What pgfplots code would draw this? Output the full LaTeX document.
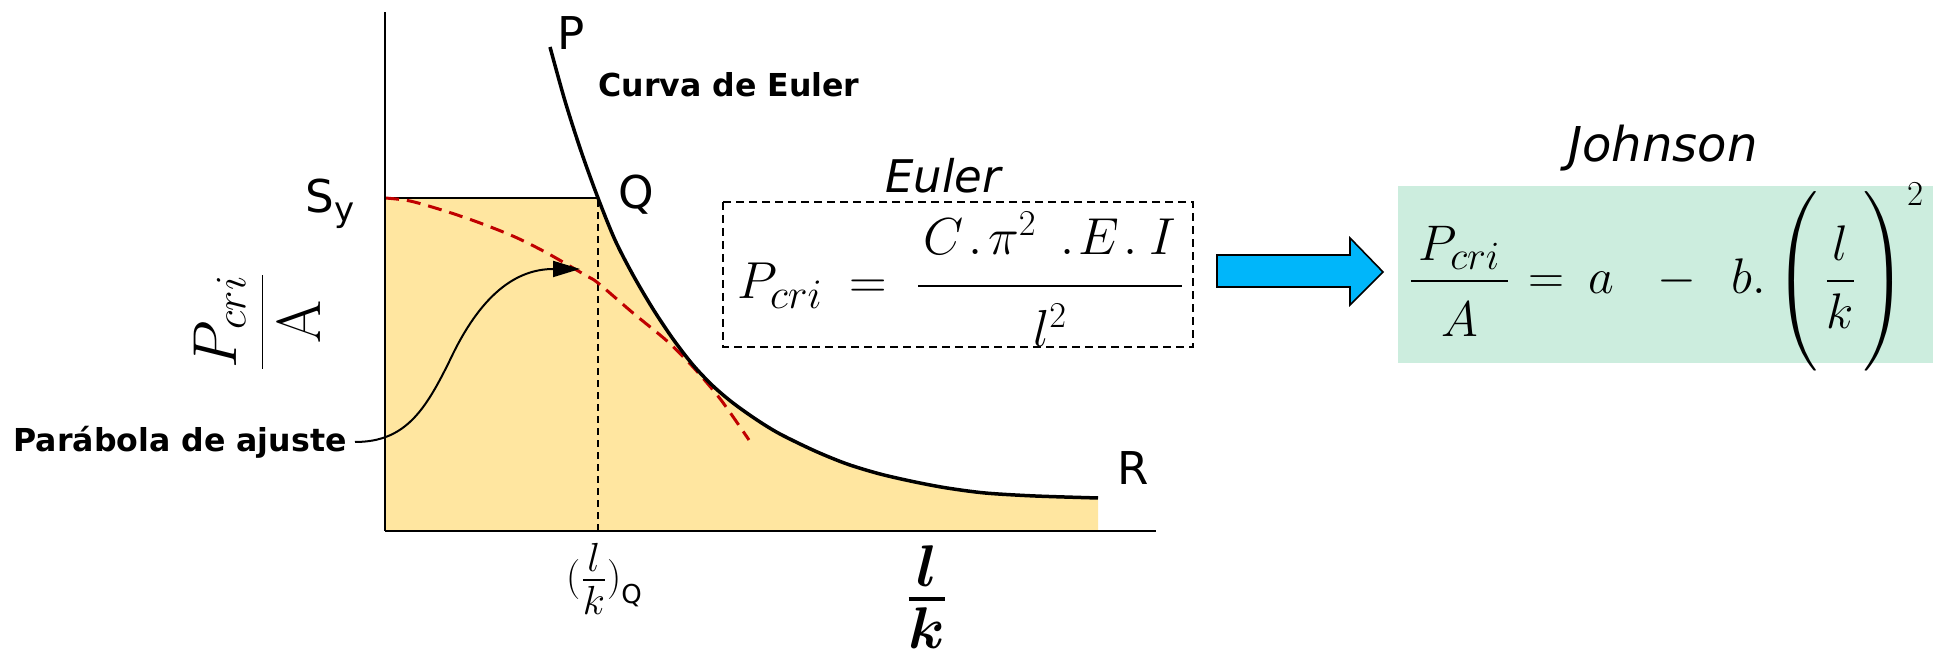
\documentclass[border=0pt]{standalone}
\usepackage{fix-cm}
\usepackage{amsmath}
\usepackage[no-math]{fontspec}
\setmainfont{DejaVu Sans}
\usepackage{pgfplots}
\pgfplotsset{compat=1.18}
\usepackage{pgfplotstable}
\usetikzlibrary{arrows.meta}

\DeclareMathAlphabet{\mathbfit}{OML}{cmm}{b}{it}

\definecolor{areafill}{RGB}{255,230,160}
\definecolor{fitred}{RGB}{192,0,0}
\definecolor{arrowblue}{RGB}{0,182,250}
\definecolor{johnsongreen}{RGB}{204,237,222}

% Euler curve  P/A = f(l/k)
\pgfplotstableread{
x y
165 484
180 430
196 380
213 333
230 291
248 256
268 222
288 192
308 166
328 145
348 128
372 111
395 97
430 80
462 67
495 57
530 49
562 43
600 38
650 35
713 33
}\eulercurve

% Johnson fitting parabola
\pgfplotstableread{
x y
0 333
25 330
60 320
95 308
130 294
162 278
200 256
213 248
248 218
282 190
308 164
336 131
364 91
}\johnsonfit

\begin{document}
\begin{tikzpicture}
\path[use as bounding box] (0,0) rectangle (970pt,328pt);

\begin{axis}[
  at={(192.5pt,62.5pt)}, anchor=south west,
  scale only axis, width=385.5pt, height=259.5pt,
  xmin=0, xmax=771, ymin=0, ymax=519,
  axis x line=bottom, axis y line=left,
  axis line style={-, line width=1.3pt},
  xtick=\empty, ytick=\empty,
  clip=false, axis on top]

  % admissible region
  \addplot[fill=areafill, draw=none] coordinates {(0,0) (0,333) (213,333) (213,0)} -- cycle;
  \addplot[fill=areafill, draw=none, smooth, restrict x to domain=213:714] table {\eulercurve} \closedcycle;

  % yield line and limit slenderness
  \draw[line width=1pt] (0,333) -- (213,333);
  \draw[line width=1pt, dash pattern=on 3.5pt off 2.5pt] (213,0) -- (213,333);

  % parabola
  \addplot[fitred, line width=1.5pt, dash pattern=on 7pt off 4pt, smooth] table {\johnsonfit};

  % Euler curve
  \addplot[black, line width=1.75pt, smooth] table {\eulercurve};

  % pointer from the label to the parabola
  \draw[line width=1pt, -{Triangle[length=13.5pt, width=8pt]}]
    (-30,89) .. controls (20,89) and (40,120) .. (65,171)
    .. controls (95,235) and (130,262) .. (195,262);
\end{axis}

% annotations, placed in pixel units measured from the top-left corner
\begin{scope}[x=0.5pt, y=-0.5pt, shift={(0pt,328pt)}]
\node[anchor=base west, inner sep=0, font=\fontsize{22.6}{27}\selectfont] at (557,50) {P};
\node[anchor=base west, inner sep=0, font=\fontsize{22.6}{27}\selectfont] at (618,209) {Q};
\node[anchor=base west, inner sep=0, font=\fontsize{22.6}{27}\selectfont] at (1117,485) {R};
\node[anchor=base west, inner sep=0, font=\fontsize{22.6}{27}\selectfont] at (305,213)
  {S\raisebox{-4.5pt}{\fontsize{17}{20}\selectfont y}};
\node[anchor=base west, inner sep=0, font=\fontsize{15.8}{19}\selectfont\bfseries] at (598,97) {Curva de Euler};
\node[anchor=base east, inner sep=0, font=\fontsize{15.8}{19}\selectfont\bfseries] at (347,452) {Parábola de ajuste};

\node[anchor=base, inner sep=0, rotate=90, font=\fontsize{31}{36}\selectfont] at (278,322)
  {$\displaystyle\frac{P_{cri}}{\mathrm{A}}$};
\node[anchor=base, inner sep=0, font=\fontsize{29}{34}\selectfont] at (604,594.5)
  {\raisebox{2.25pt}{\fontsize{20}{24}\selectfont$($}$\frac{l}{k}$\raisebox{2.25pt}{\fontsize{20}{24}\selectfont$)$}\raisebox{-4.75pt}{\fontsize{13}{15}\selectfont Q}};
\node[anchor=base, inner sep=0, font=\fontsize{42}{48}\selectfont] at (927,620)
  {$\genfrac{}{}{2pt}{1}{\mathbfit{l}}{\mathbfit{k}}$};

% Euler formula
\node[anchor=base, inner sep=0, font=\fontsize{22.5}{27}\selectfont\itshape] at (943,193) {Euler};
\draw[line width=0.8pt, dash pattern=on 4pt off 2.5pt] (723,202) rectangle (1193,347);
\node[anchor=base west, inner sep=0, font=\fontsize{26}{31}\selectfont] at (737,299)
  {$P_{\hbox{\fontsize{21}{25}\selectfont$cri$}}\hspace{6pt}=$};
\node[anchor=base, inner sep=0, font=\fontsize{26}{31}\selectfont] at (1050,299)
  {$\displaystyle\frac{\raisebox{4.5pt}{\hbox to 132pt{\hfil$C$\hspace{-1pt}\hfil$.$\hfil$\pi^{2}$\hspace{9pt}\hfil$.$\hfil\hspace{-1pt}$E$\hspace{-1pt}\hfil$.$\hspace{3pt}\hfil$I$\hfil}}}{\raisebox{-6pt}{$l^{2}$}}$};

% arrow towards Johnson
\filldraw[fill=arrowblue, draw=black, line width=0.8pt]
  (1217,255) -- (1350,255) -- (1350,238) -- (1383,272) -- (1350,305) -- (1350,287) -- (1217,287) -- cycle;

% Johnson formula
\node[anchor=base, inner sep=0, font=\fontsize{24}{29}\selectfont\itshape] at (1663,162) {Johnson};
\fill[johnsongreen] (1398,186) rectangle (1933,363);
\node[anchor=base west, inner sep=0, font=\fontsize{25}{30}\selectfont] at (1408,294)
  {$\displaystyle\frac{\hspace{4pt}P_{\hbox{\fontsize{20}{24}\selectfont$cri$}}\hspace{4pt}}{\raisebox{-4pt}{$A$}}\hspace{2pt}=\hspace{5pt}a\hspace{16pt}-\hspace{12pt}b.\left(\vrule height 46pt depth 34pt width 0pt\hspace{3.5pt}\frac{l}{k}\hspace{3.5pt}\right)^{2}$};
\end{scope}
\end{tikzpicture}
\end{document}
